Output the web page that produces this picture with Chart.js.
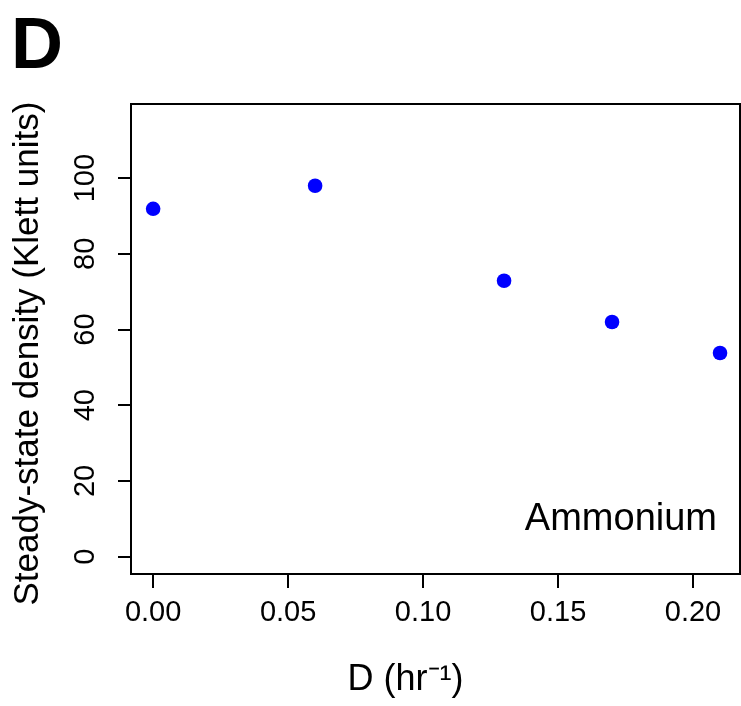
<!DOCTYPE html>
<html>
<head>
<meta charset="utf-8">
<script src="https://cdn.jsdelivr.net/npm/chart.js@4"></script>
<style>
  html, body { margin: 0; padding: 0; background: #fff; overflow: hidden; }
  canvas { display: block; }
</style>
</head>
<body>
<canvas id="chart" width="741" height="706"></canvas>
<script>
// dilution rate (hr^-1) and steady-state density (Klett units)
const dilution = [0, 0.06, 0.13, 0.17, 0.21];
const density = [91.9, 98, 72.9, 62, 53.8];
const xTicks = [0, 0.05, 0.1, 0.15, 0.2];
const yTicks = [0, 20, 40, 60, 80, 100];

Chart.defaults.font.family = "'Liberation Sans', Arial, sans-serif";
Chart.defaults.color = "#000";

const frame = {
	id: "frame",
	afterDraw(chart) {
		const { ctx, chartArea: a } = chart;
		ctx.save();
		ctx.strokeStyle = "#000";
		ctx.lineWidth = 2;
		ctx.strokeRect(a.left, a.top, a.right - a.left, a.bottom - a.top);

		ctx.fillStyle = "#000";
		ctx.font = "38px 'Liberation Sans', Arial, sans-serif";
		ctx.textAlign = "right";
		ctx.textBaseline = "alphabetic";
		ctx.fillText("Ammonium", a.right - 23, a.bottom - 44);

		ctx.font = "bold 72px 'Liberation Sans', Arial, sans-serif";
		ctx.textAlign = "left";
		ctx.fillText("D", 11, 68);
		ctx.restore();
	},
};

const data = {
	datasets: [
		{
			data: dilution.map((x, i) => ({ x, y: density[i] })),
			backgroundColor: "#0000ff",
			borderWidth: 0,
			pointRadius: 7.3,
		},
	],
};

const options = {
	responsive: false,
	animation: false,
	layout: { autoPadding: false, padding: { top: 104, right: 1, left: 0, bottom: 0 } },
	plugins: {
		legend: { display: false },
		tooltip: { enabled: false },
	},
	scales: {
		x: {
			type: "linear",
			min: -0.0082,
			max: 0.2174,
			afterBuildTicks: (s) => {
				s.ticks = xTicks.map((value) => ({ value }));
			},
			afterFit: (s) => {
				s.height = 132;
				s.paddingLeft = 0;
				s.paddingRight = 0;
			},
			border: { display: false },
			grid: { drawOnChartArea: false, tickLength: 14, color: "#000", lineWidth: 2 },
			ticks: {
				font: { size: 29 },
				padding: 8,
				maxRotation: 0,
				callback: (v) => v.toFixed(2),
			},
			title: {
				display: true,
				text: "D (hr\u207B\u00B9)      ",
				font: { size: 36 },
				padding: { top: 0, bottom: 4 },
			},
		},
		y: {
			type: "linear",
			min: -4.6,
			max: 119.6,
			afterBuildTicks: (s) => {
				s.ticks = yTicks.map((value) => ({ value }));
			},
			afterFit: (s) => {
				s.width = 131;
				s.paddingTop = 0;
				s.paddingBottom = 0;
			},
			border: { display: false },
			grid: { drawOnChartArea: false, tickLength: 13, color: "#000", lineWidth: 2 },
			ticks: {
				font: { size: 29 },
				padding: 8,
				minRotation: 90,
				maxRotation: 90,
				crossAlign: "center",
			},
			title: {
				display: true,
				text: "Steady-state density (Klett units)   ",
				font: { size: 35 },
				padding: { top: 7, bottom: 0 },
			},
		},
	},
};

new Chart(document.querySelector("#chart"), {
	type: "scatter",
	data,
	options,
	plugins: [frame],
});
</script>
</body>
</html>
